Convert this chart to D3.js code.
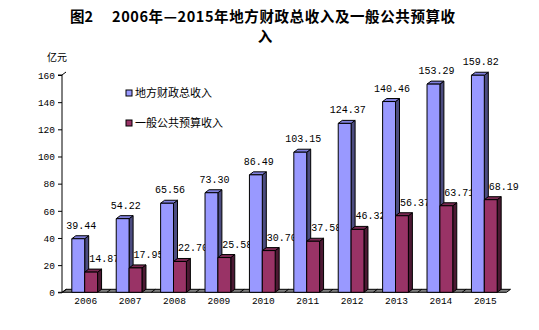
<!DOCTYPE html>
<html>
<head>
<meta charset="utf-8">
<script src="https://cdn.jsdelivr.net/npm/d3@7"></script>
<style>
  html, body { margin: 0; padding: 0; background: #fff; }
  svg { display: block; }
  .num { font-family: "Liberation Mono", "DejaVu Sans Mono", monospace; }
  .cjk { font-family: "Noto Sans CJK SC", sans-serif; }
</style>
</head>
<body>
<div id="chart"></div>
<script>
// 2006–2015 local fiscal revenue (亿元)
const years = ["2006","2007","2008","2009","2010","2011","2012","2013","2014","2015"];
const totalRevenue = [39.44, 54.22, 65.56, 73.30, 86.49, 103.15, 124.37, 140.46, 153.29, 159.82];
const budgetRevenue = [14.87, 17.95, 22.70, 25.58, 30.70, 37.58, 46.32, 56.37, 63.71, 68.19];
const seriesNames = ["地方财政总收入", "一般公共预算收入"];
const yTicks = [0, 20, 40, 60, 80, 100, 120, 140, 160];

const W = 539, H = 330;
const depthX = 4, depthY = 3;

const palette = [
  { front: "#9999FF", top: "#8080DD", side: "#4C4C80" },
  { front: "#993366", top: "#7A2952", side: "#4C1933" }
];

const svg = d3.select("#chart").append("svg")
  .attr("width", W).attr("height", H);

// Title: figure number, then the caption wrapping onto a second line
svg.append("text").attr("class", "cjk")
  .attr("x", 70).attr("y", 22)
  .attr("font-size", 14.5).attr("font-weight", "bold")
  .text("图2");
svg.append("text").attr("class", "cjk")
  .attr("x", 112).attr("y", 22)
  .attr("font-size", 14.5).attr("font-weight", "bold")
  .attr("letter-spacing", 0.6)
  .text("2006年—2015年地方财政总收入及一般公共预算收");
svg.append("text").attr("class", "cjk")
  .attr("x", 265).attr("y", 42)
  .attr("text-anchor", "middle")
  .attr("font-size", 14.5).attr("font-weight", "bold")
  .text("入");

// Scales
const y = d3.scaleLinear().domain([0, 160]).range([292.3, 75]);
const x0 = d3.scaleBand().domain(years).range([62.5, 506.5]).padding(0);
const x1 = d3.scaleBand().domain([0, 1])
  .range([x0.bandwidth() * 0.21, x0.bandwidth() * 0.79]).padding(0);

const axisX = 62;
const y0 = y(0);

// Unit label
svg.append("text").attr("class", "cjk")
  .attr("x", 47).attr("y", 61)
  .attr("font-size", 10)
  .text("亿元");

// Floor of the 3D plot
const g = svg.append("g");
const xEnd = x0.range()[1];
g.append("path")
  .attr("d", `M${axisX},${y0} L${xEnd},${y0} L${xEnd + depthX},${y0 - depthY} L${axisX + depthX},${y0 - depthY} Z`)
  .attr("fill", "#808080").attr("stroke", "#000").attr("stroke-width", 1);
years.forEach(yr => {
  const xb = x0(yr);
  g.append("line")
    .attr("x1", xb).attr("y1", y0).attr("x2", xb + depthX).attr("y2", y0 - depthY)
    .attr("stroke", "#000").attr("stroke-width", 1);
});

// Y axis
const yAxis = d3.axisLeft(y).tickValues(yTicks).tickSize(4).tickPadding(3);
const ya = svg.append("g").attr("transform", `translate(${axisX},0)`).call(yAxis);
ya.select(".domain").attr("stroke", "#000").attr("d", `M-4,${y(160)}H0V${y0}H-4`);
ya.selectAll(".tick line").attr("stroke", "#000");
ya.selectAll(".tick text")
  .attr("font-family", "Liberation Mono, monospace")
  .attr("font-size", 9.5).attr("fill", "#000").attr("dy", "0.35em");
svg.append("line")
  .attr("x1", axisX).attr("y1", y(160)).attr("x2", axisX + depthX).attr("y2", y(160) - depthY)
  .attr("stroke", "#000");

// X axis labels
years.forEach(yr => {
  svg.append("text").attr("class", "num")
    .attr("x", x0(yr) + x0.bandwidth() / 2 + 1)
    .attr("y", 304)
    .attr("text-anchor", "middle")
    .attr("font-size", 9.5)
    .text(yr);
});

// 3D bar helper: side face, top face, then front face
function bar3d(parent, x, w, v, colors) {
  const yt = y(v);
  const bg = parent.append("g").attr("stroke", "#000").attr("stroke-width", 1).attr("stroke-linejoin", "round");
  bg.append("path")
    .attr("d", `M${x + w},${y0} L${x + w + depthX},${y0 - depthY} L${x + w + depthX},${yt - depthY} L${x + w},${yt} Z`)
    .attr("fill", colors.side);
  bg.append("path")
    .attr("d", `M${x},${yt} L${x + depthX},${yt - depthY} L${x + w + depthX},${yt - depthY} L${x + w},${yt} Z`)
    .attr("fill", colors.top);
  bg.append("rect")
    .attr("x", x).attr("y", yt).attr("width", w).attr("height", y0 - yt)
    .attr("fill", colors.front);
}

const seriesValues = [totalRevenue, budgetRevenue];
const labelShift = [3, 13];

// Each year's pair is drawn with its labels before the next year,
// so later bars sit in front of earlier value labels.
years.forEach((yr, i) => {
  const grp = svg.append("g");
  seriesValues.forEach((vals, s) => {
    bar3d(grp, x0(yr) + x1(s), x1.bandwidth(), vals[i], palette[s]);
  });
  seriesValues.forEach((vals, s) => {
    grp.append("text").attr("class", "num")
      .attr("x", x0(yr) + x1(s) + x1.bandwidth() / 2 + labelShift[s])
      .attr("y", y(vals[i]) - 10)
      .attr("text-anchor", "middle")
      .attr("font-size", 10)
      .text(vals[i].toFixed(2));
  });
});

// Legend
seriesNames.forEach((name, s) => {
  const ly = 93 + s * 30;
  svg.append("rect")
    .attr("x", 126).attr("y", ly - 3).attr("width", 6).attr("height", 6)
    .attr("fill", palette[s].front).attr("stroke", "#000").attr("stroke-width", 1);
  svg.append("text").attr("class", "cjk")
    .attr("x", 135).attr("y", ly + 4)
    .attr("font-size", 11)
    .text(name);
});
</script>
</body>
</html>
